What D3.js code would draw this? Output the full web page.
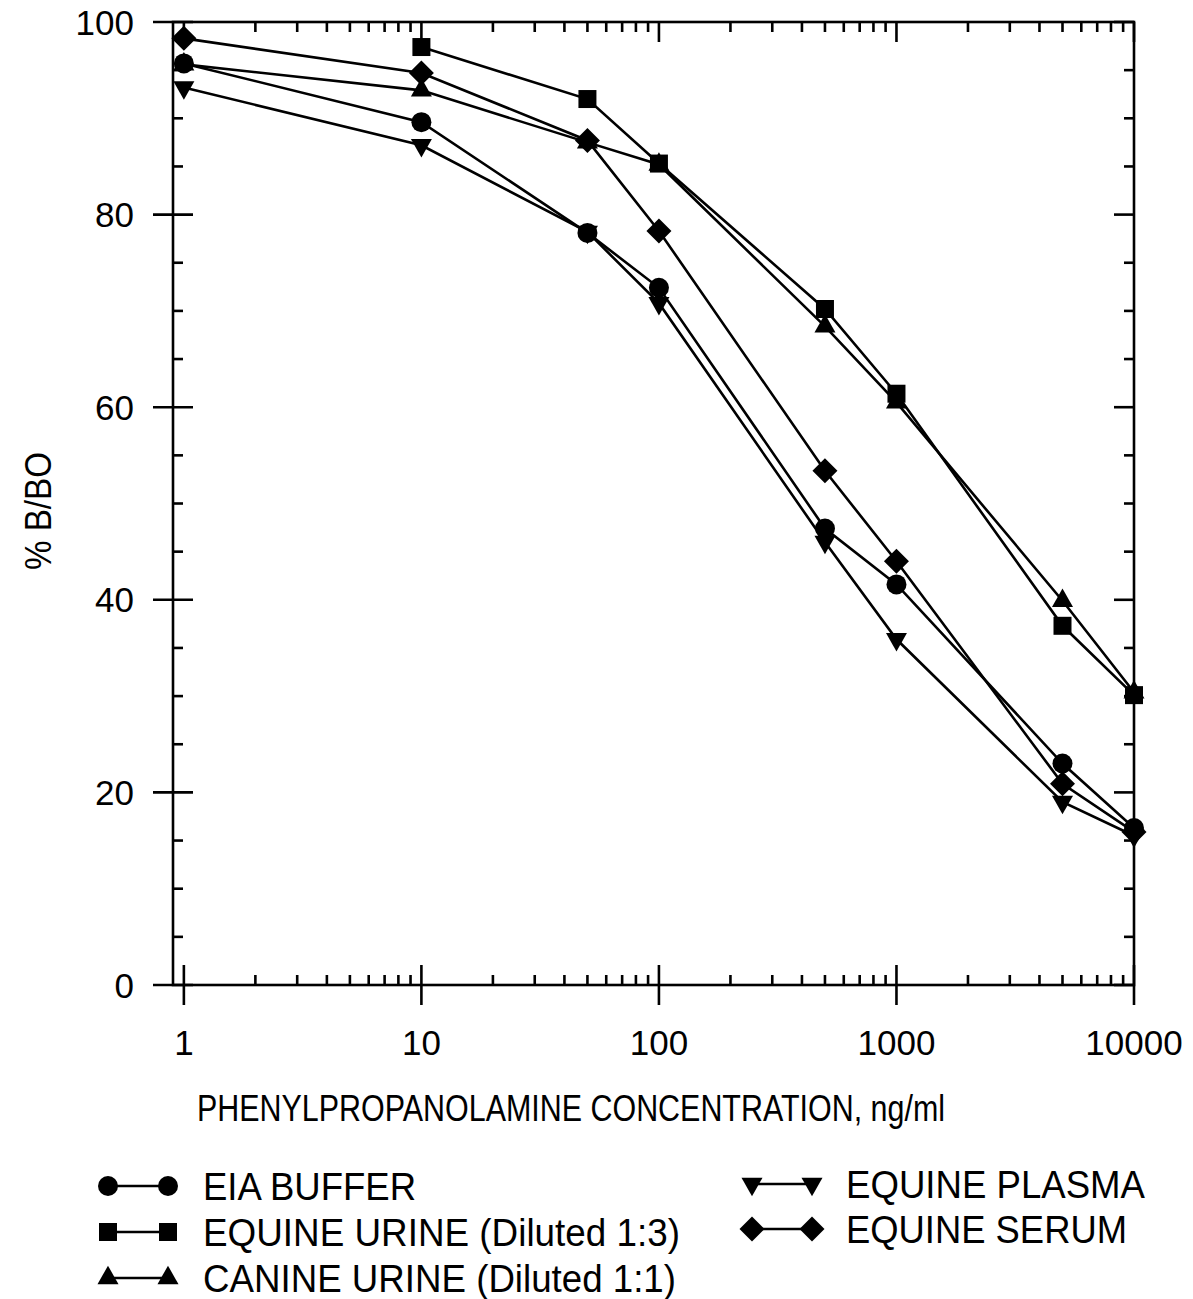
<!DOCTYPE html>
<html><head><meta charset="utf-8">
<script src="https://cdn.jsdelivr.net/npm/d3@7"></script>
<style>body{margin:0;background:#fff}svg{display:block}text{font-family:"Liberation Sans",Arial,sans-serif;fill:#000}</style>
</head><body>
<svg id="c" width="1193" height="1299"></svg>
<script>
const concentrations = [1, 10, 50, 100, 500, 1000, 5000, 10000];
const eiaBuffer    = [95.7, 89.6, 78.1, 72.4, 47.4, 41.6, 23.0, 16.3];
const equineUrine  = [null, 97.4, 92.0, 85.3, 70.2, 61.4, 37.3, 30.1];
const canineUrine  = [95.6, 92.9, 87.5, 85.2, 68.4, 60.5, 39.9, 30.4];
const equinePlasma = [93.2, 87.2, 78.2, 70.8, 46.0, 35.9, 19.0, 15.5];
const equineSerum  = [98.3, 94.7, 87.7, 78.3, 53.4, 44.0, 20.9, 15.9];
const seriesNames = ["EIA BUFFER", "EQUINE URINE (Diluted 1:3)", "CANINE URINE (Diluted 1:1)", "EQUINE PLASMA", "EQUINE SERUM"];
const xTickLabels = ["1", "10", "100", "1000", "10000"];
const yTickLabels = ["0", "20", "40", "60", "80", "100"];
const xTitle = "PHENYLPROPANOLAMINE CONCENTRATION, ng/ml";
const yTitle = "% B/BO";

const symCircle = {draw(c){c.moveTo(10,0);c.arc(0,0,10,0,2*Math.PI);}};
const symSquare = {draw(c){c.rect(-9,-9,18,18);}};
const symDiamond = {draw(c){const r=12.5;c.moveTo(0,-r);c.lineTo(r,0);c.lineTo(0,r);c.lineTo(-r,0);c.closePath();}};
const symTri = {draw(c){const w=10.5,h=18.5;c.moveTo(0,-h*2/3);c.lineTo(w,h/3);c.lineTo(-w,h/3);c.closePath();}};
const symTriDown = {draw(c){const w=10.5,h=18.5;c.moveTo(0,h*2/3);c.lineTo(w,-h/3);c.lineTo(-w,-h/3);c.closePath();}};

const series = [
  {name: seriesNames[0], values: eiaBuffer, sym: symCircle},
  {name: seriesNames[1], values: equineUrine, sym: symSquare},
  {name: seriesNames[2], values: canineUrine, sym: symTri},
  {name: seriesNames[3], values: equinePlasma, sym: symTriDown},
  {name: seriesNames[4], values: equineSerum, sym: symDiamond},
];

const L=173, R=1134, T=22, B=985;
const svg = d3.select("#c");
const x = d3.scaleLog().domain([0.9, 10000]).range([L, R]);
const y = d3.scaleLinear().domain([0, 100]).range([B, T]);
const SW = 2.6;

// frame
svg.append("rect").attr("x",L).attr("y",T).attr("width",R-L).attr("height",B-T)
  .attr("fill","none").attr("stroke","#000").attr("stroke-width",SW);

// x ticks
const majorsX = xTickLabels.map(Number);
const minorsX = [];
for (let d=1; d<10000; d*=10) for (let k=2;k<=9;k++) minorsX.push(d*k);
const g = svg.append("g").attr("stroke","#000").attr("stroke-width",SW);
majorsX.forEach(v=>{
  g.append("line").attr("x1",x(v)).attr("x2",x(v)).attr("y1",B-20).attr("y2",B+20);
  g.append("line").attr("x1",x(v)).attr("x2",x(v)).attr("y1",T).attr("y2",T+20);
});
minorsX.forEach(v=>{
  g.append("line").attr("x1",x(v)).attr("x2",x(v)).attr("y1",B-10).attr("y2",B);
  g.append("line").attr("x1",x(v)).attr("x2",x(v)).attr("y1",T).attr("y2",T+10);
});
// y ticks
d3.range(0,101,5).forEach(v=>{
  const isMajor = v%20===0;
  if (isMajor) {
    g.append("line").attr("x1",L-20).attr("x2",L+20).attr("y1",y(v)).attr("y2",y(v));
    g.append("line").attr("x1",R-20).attr("x2",R).attr("y1",y(v)).attr("y2",y(v));
  } else {
    g.append("line").attr("x1",L).attr("x2",L+10).attr("y1",y(v)).attr("y2",y(v));
    g.append("line").attr("x1",R-10).attr("x2",R).attr("y1",y(v)).attr("y2",y(v));
  }
});

// tick labels
xTickLabels.forEach(t=>{
  svg.append("text").attr("x",x(+t)).attr("y",1055).attr("text-anchor","middle")
    .attr("font-size",35).text(t);
});
yTickLabels.forEach(t=>{
  svg.append("text").attr("x",134).attr("y",y(+t)+12.5).attr("text-anchor","end")
    .attr("font-size",35).text(t);
});
svg.append("text").attr("x",197).attr("y",1121)
  .attr("font-size",37).attr("textLength",748).attr("lengthAdjust","spacingAndGlyphs").text(xTitle);
svg.append("text").attr("transform","translate(51,570) rotate(-90)")
  .attr("font-size",37).attr("textLength",118).attr("lengthAdjust","spacingAndGlyphs").text(yTitle);

// lines
const line = d3.line().defined(d=>d[1]!=null).x(d=>x(d[0])).y(d=>y(d[1]));
series.forEach(s=>{
  const pts = concentrations.map((c,i)=>[c,s.values[i]]);
  svg.append("path").attr("d",line(pts)).attr("fill","none").attr("stroke","#000").attr("stroke-width",SW);
});
series.forEach(s=>{
  const pts = concentrations.map((c,i)=>[c,s.values[i]]).filter(d=>d[1]!=null);
  svg.append("g").selectAll("path").data(pts).join("path")
    .attr("transform",d=>`translate(${x(d[0])},${y(d[1])})`)
    .attr("d",d3.symbol().type(s.sym).size(1)).attr("fill","#000");
});

// legend
const legendPos = [
  {x1:108,x2:168,tx:203,y:1186,w:213},
  {x1:108,x2:168,tx:203,y:1232,w:477},
  {x1:108,x2:168,tx:203,y:1278,w:473},
  {x1:752,x2:812,tx:846,y:1184,w:299},
  {x1:752,x2:812,tx:846,y:1229,w:281},
];
series.forEach((s,i)=>{
  const p = legendPos[i];
  svg.append("line").attr("x1",p.x1).attr("x2",p.x2).attr("y1",p.y).attr("y2",p.y)
    .attr("stroke","#000").attr("stroke-width",SW);
  [p.x1,p.x2].forEach(xx=>svg.append("path").attr("transform",`translate(${xx},${p.y})`)
    .attr("d",d3.symbol().type(s.sym).size(1)).attr("fill","#000"));
  svg.append("text").attr("x",p.tx).attr("y",p.y+14).attr("font-size",39)
    .attr("textLength",p.w).attr("lengthAdjust","spacingAndGlyphs").text(s.name);
});
</script>
</body></html>
